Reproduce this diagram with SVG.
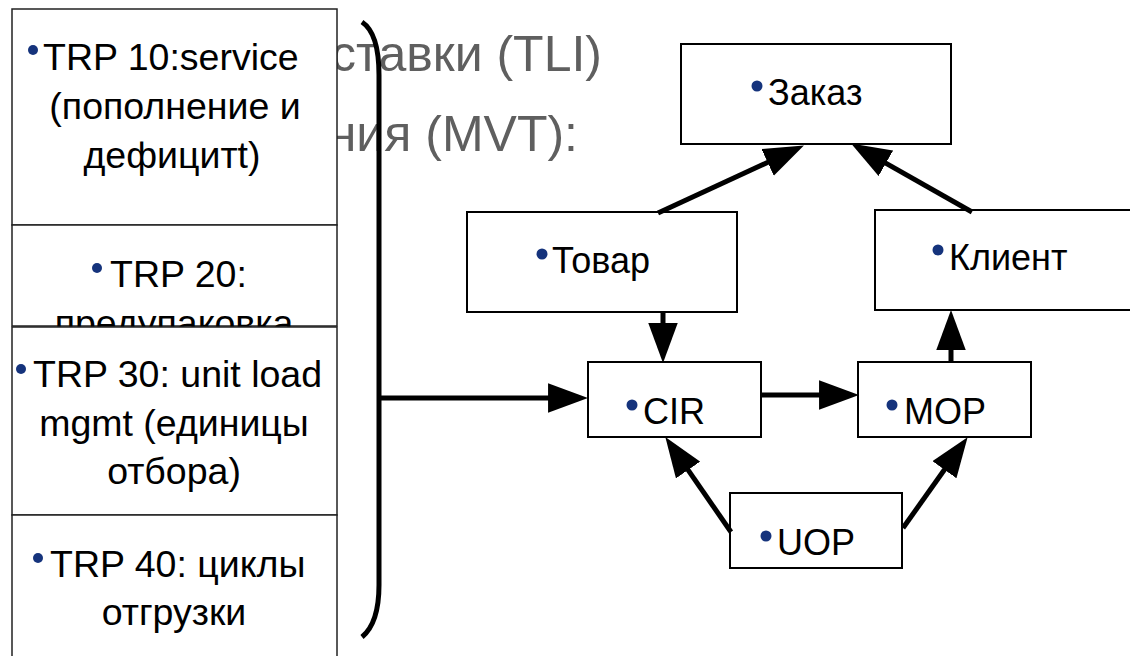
<svg xmlns="http://www.w3.org/2000/svg" width="1130" height="656" viewBox="0 0 1130 656">
<style>
.box{fill:#fff;stroke:#000;stroke-width:2}
.lbox{fill:#fff;stroke:#222;stroke-width:1.5}
.t{font-family:"Liberation Sans",Arial,sans-serif;font-size:36px;fill:#000}
.l{font-size:37.5px}
.m{text-anchor:middle}
.g{font-family:"Liberation Sans",Arial,sans-serif;font-size:50px;fill:#5f5f5f;text-anchor:end}
.b{fill:#15337c}
.c{stroke:#000;stroke-width:5;fill:none}
</style>
<defs>
<marker id="ah" markerUnits="userSpaceOnUse" markerWidth="40" markerHeight="30" viewBox="0 0 38 28" refX="18" refY="14" orient="auto">
<path d="M0,0 L38,14 L0,28 z" fill="#000"/>
</marker>
</defs>
<g id="background-text">
<text class="g" x="602" y="71">ставки (TLI)</text>
<text class="g" x="578" y="151">ния (MVT):</text>
</g>
<g id="trp10">
<rect class="lbox" x="12" y="9" width="325" height="216"/>
<circle class="b" cx="33" cy="50" r="5"/>
<text class="t l" x="43" y="70">TRP 10:service</text>
<text class="t l m" x="175" y="119">(пополнение и</text>
<text class="t l m" x="172" y="168">дефицитt)</text>
</g>
<g id="trp20">
<rect class="lbox" x="12" y="225" width="325" height="101"/>
<circle class="b" cx="97" cy="268" r="5"/>
<text class="t l" x="110" y="287">TRP 20:</text>
<text class="t l m" x="174" y="336">предупаковка</text>
</g>
<g id="trp30">
<rect class="lbox" x="12" y="327" width="325" height="188"/>
<circle class="b" cx="21" cy="369" r="5"/>
<text class="t l" x="33" y="387">TRP 30: unit load</text>
<text class="t l m" x="174" y="436">mgmt (единицы</text>
<text class="t l m" x="174" y="484">отбора)</text>
</g>
<g id="trp40">
<rect class="lbox" x="12" y="515" width="325" height="150"/>
<circle class="b" cx="38" cy="558" r="5"/>
<text class="t l" x="50" y="577">TRP 40: циклы</text>
<text class="t l m" x="174" y="625">отгрузки</text>
</g>
<g id="zakaz">
<rect class="box" x="681" y="44" width="270" height="100"/>
<circle class="b" cx="757" cy="86" r="5.5"/>
<text class="t" x="768" y="105">Заказ</text>
</g>
<g id="tovar">
<rect class="box" x="467" y="212" width="270" height="100"/>
<circle class="b" cx="542" cy="254" r="5.5"/>
<text class="t" x="552" y="273">Товар</text>
</g>
<g id="klient">
<rect class="box" x="875" y="210" width="260" height="100"/>
<circle class="b" cx="938" cy="250" r="5.5"/>
<text class="t" x="949" y="270">Клиент</text>
</g>
<g id="cir">
<rect class="box" x="588" y="362" width="173" height="75"/>
<circle class="b" cx="632" cy="405" r="5.5"/>
<text class="t" x="643" y="424">CIR</text>
</g>
<g id="mop">
<rect class="box" x="858" y="362" width="173" height="75"/>
<circle class="b" cx="892" cy="405" r="5.5"/>
<text class="t" x="904" y="424">MOP</text>
</g>
<g id="uop">
<rect class="box" x="730" y="493" width="172" height="75"/>
<circle class="b" cx="766" cy="536" r="5.5"/>
<text class="t" x="777" y="555">UOP</text>
</g>
<g id="connectors">
<path class="c" d="M362,22 C374,30 379,48 379,75 L379,585 C379,612 373,628 362,637"/>
<line class="c" x1="379" y1="398" x2="567" y2="398" marker-end="url(#ah)"/>
<line class="c" x1="663" y1="312" x2="663" y2="342" marker-end="url(#ah)"/>
<line class="c" x1="761" y1="395" x2="838" y2="395" marker-end="url(#ah)"/>
<line class="c" x1="951" y1="362" x2="951" y2="331" marker-end="url(#ah)"/>
<line class="c" x1="731" y1="532" x2="677.3" y2="454.4" marker-end="url(#ah)"/>
<line class="c" x1="903" y1="528" x2="955.4" y2="454.3" marker-end="url(#ah)"/>
<line class="c" x1="658" y1="213" x2="784.8" y2="154.4" marker-end="url(#ah)"/>
<line class="c" x1="972" y1="212" x2="869.4" y2="153.9" marker-end="url(#ah)"/>
</g>
</svg>
